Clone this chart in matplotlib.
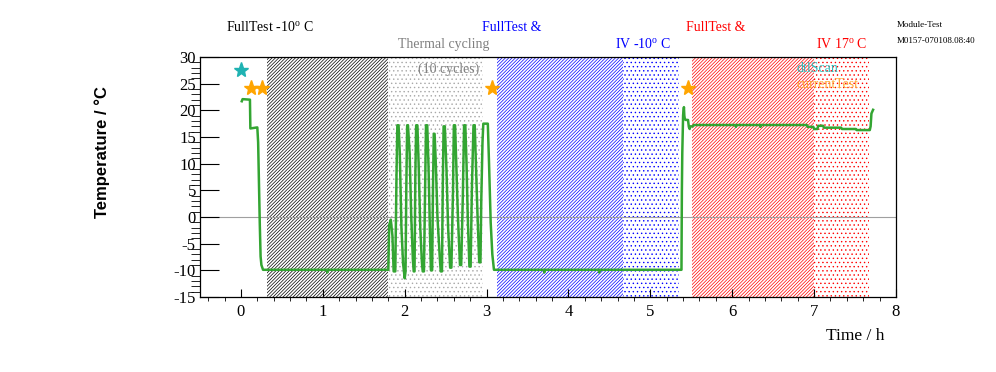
import matplotlib
matplotlib.use("Agg")
import matplotlib.pyplot as plt
from matplotlib.ticker import MultipleLocator

# temperature log of the module test (time in hours, temperature in deg C)
time_h = [0.01, 0.02, 0.11, 0.115, 0.20, 0.21, 0.22, 0.23, 0.24, 0.25, 0.27,
          1.05, 1.055, 1.06, 1.79,
          1.80, 1.81, 1.83, 1.85, 1.865, 1.885, 1.90, 1.91, 1.925, 1.94, 1.96,
          1.98, 1.99, 2.00, 2.01, 2.02, 2.03, 2.04, 2.06, 2.08, 2.10, 2.11,
          2.12, 2.13, 2.14, 2.155, 2.17, 2.19, 2.21, 2.22, 2.235, 2.25, 2.26,
          2.275, 2.29, 2.31, 2.32, 2.335, 2.345, 2.355, 2.365, 2.38, 2.40,
          2.43, 2.44, 2.455, 2.465, 2.475, 2.49, 2.51, 2.53, 2.55, 2.555, 2.57,
          2.59, 2.60, 2.615, 2.63, 2.65, 2.67, 2.675, 2.69, 2.71, 2.725, 2.74,
          2.755, 2.77, 2.785, 2.79, 2.805, 2.82, 2.84, 2.855, 2.87, 2.89,
          2.905, 2.91, 2.925, 2.935, 2.95, 2.96, 3.015, 3.03, 3.05, 3.07,
          3.09, 3.70, 3.705, 3.71, 4.37, 4.375, 4.38, 5.38,
          5.385, 5.39, 5.40, 5.41, 5.415, 5.42, 5.43, 5.46, 5.47, 5.48, 5.49,
          5.52, 5.53, 6.04, 6.045, 6.05, 6.34, 6.345, 6.35, 6.91, 6.92, 6.99,
          7.00, 7.04, 7.05, 7.11, 7.12, 7.33, 7.34, 7.51, 7.52, 7.68, 7.69,
          7.70, 7.72]
temp_c = [21.7, 22.1, 22.0, 16.6, 16.8, 14.0, 6.4, -1.2, -7.4, -9.0, -9.9,
          -9.9, -10.4, -9.9, -9.9,
          -9.9, -1.5, -0.5, -3.5, -10.2, -10.2, 8.0, 17.2, 17.2, 12.0, -2.0,
          -8.7, -10.2, -11.5, -10.2, 6.0, 17.2, 17.2, 12.0, 0.0, -8.0, -10.2,
          -10.2, 8.0, 17.2, 17.2, 10.0, -2.0, -8.5, -10.2, -10.2, 6.0, 17.2,
          17.2, 10.0, -4.0, -10.0, -10.0, 5.0, 15.6, 15.6, 10.0, 0.0,
          -8.0, -10.2, -10.2, 6.0, 17.0, 17.0, 9.0, -2.0, -8.0, -9.5, -9.5,
          5.0, 17.2, 17.2, 10.0, 0.0, -7.5, -9.0, -9.0, 4.0, 17.2, 17.2,
          10.0, 0.0, -7.0, -9.3, -9.3, 5.0, 17.2, 17.2, 10.0, 0.0,
          -6.0, -8.5, -8.5, 3.0, 14.0, 17.5, 17.5, 10.0, -1.0, -7.0,
          -9.9, -9.9, -10.4, -9.9, -9.9, -10.4, -9.9, -9.9,
          5.0, 12.0, 19.1, 20.6, 19.0, 18.5, 18.2, 18.2, 16.9, 16.5, 17.0,
          17.0, 17.25, 17.25, 16.9, 17.25, 17.25, 16.9, 17.25, 17.25, 16.9, 16.9,
          16.5, 16.5, 17.1, 17.1, 16.75, 16.75, 16.5, 16.5, 16.3, 16.3, 17.0,
          19.4, 20.1]

# test markers
dtl_scan_times = [0.0]
dtl_scan_level = 27.5
current_test_times = [0.12, 0.26, 3.07, 5.46]
current_test_level = 24.2

# shaded test phases: (start, end, colour, hatch)
phases = [
    (0.32, 1.79, "black", "//////////"),
    (1.79, 2.96, "#a8a8a8", "...."),
    (3.13, 4.67, "blue", "//////////"),
    (4.67, 5.35, "blue", "...."),
    (5.51, 7.00, "red", "//////////"),
    (7.00, 7.67, "red", "...."),
]

plt.rcParams["font.family"] = ["Liberation Serif", "DejaVu Serif"]
plt.rcParams["mathtext.fontset"] = "custom"
plt.rcParams["mathtext.rm"] = "Liberation Serif"
plt.rcParams["axes.unicode_minus"] = False
plt.rcParams["hatch.linewidth"] = 0.5

fig = plt.figure(figsize=(9.96, 3.72), dpi=100)
ax = fig.add_axes([200 / 996, 75 / 372, 696 / 996, 240 / 372])

for start, end, col, hatch in phases:
    ax.axvspan(start, end, facecolor="none", edgecolor=col, hatch=hatch,
               linewidth=0, zorder=0)

ax.axhline(0, color="#a0a0a0", linewidth=0.8, zorder=1)
ax.plot(time_h, temp_c, color="#33a532", linewidth=1.8, zorder=3)

ax.plot(dtl_scan_times, [dtl_scan_level] * len(dtl_scan_times), linestyle="none",
        marker="*", markersize=11, color="#1fb2b2", zorder=4)
ax.plot(current_test_times, [current_test_level] * len(current_test_times),
        linestyle="none", marker="*", markersize=11, color="#ffa500", zorder=4)

ax.set_xlim(-0.5, 8.0)
ax.set_ylim(-15, 30)
ax.xaxis.set_major_locator(MultipleLocator(1))
ax.xaxis.set_minor_locator(MultipleLocator(0.2))
ax.yaxis.set_major_locator(MultipleLocator(5))
ax.yaxis.set_minor_locator(MultipleLocator(1))
ax.tick_params(axis="both", direction="in", labelsize=12, top=False, right=False)
ax.tick_params(axis="y", which="major", length=13.5, pad=3)
ax.tick_params(axis="y", which="minor", length=6.5)
ax.tick_params(axis="x", which="major", length=5.8, pad=5)
ax.tick_params(axis="x", which="minor", length=2.9)
for s in ax.spines.values():
    s.set_linewidth(0.9)

# phase labels above the frame
lbl = dict(fontsize=10, va="center", ha="left", clip_on=False)
ax.text(-0.18, 35.6, "FullTest -10$^{\\rm o}$ C", color="black", **lbl)
ax.text(1.915, 32.4, "Thermal cycling", color="#808080", **lbl)
ax.text(2.16, 27.75, "(10 cycles)", color="#808080", **lbl)
ax.text(2.94, 35.6, "FullTest &", color="blue", **lbl)
ax.text(4.57, 32.4, "IV -10$^{\\rm o}$ C", color="blue", **lbl)
ax.text(5.44, 35.6, "FullTest &", color="red", **lbl)
ax.text(7.02, 32.4, "IV 17$^{\\rm o}$ C", color="red", **lbl)
ax.text(6.78, 27.75, "dtlScan", color="#33bbbb", **lbl)
ax.text(6.78, 24.9, "currentTest", color="#ffaa33", **lbl)

fig.text(897 / 996, 1 - 25 / 372, "Module-Test", fontsize=6.5, va="center")
fig.text(897 / 996, 1 - 41 / 372, "M0157-070108.08:40", fontsize=6.5, va="center")

fig.text(102 / 996, 1 - 152 / 372, "Temperature / °C", rotation=90,
         ha="center", va="center", fontsize=12, fontweight="bold",
         family=["Liberation Sans", "DejaVu Sans"])
fig.text(884 / 996, 1 - 336 / 372, "Time / h", ha="right", va="center",
         fontsize=12.5)

fig.savefig("out.png", dpi=100)
